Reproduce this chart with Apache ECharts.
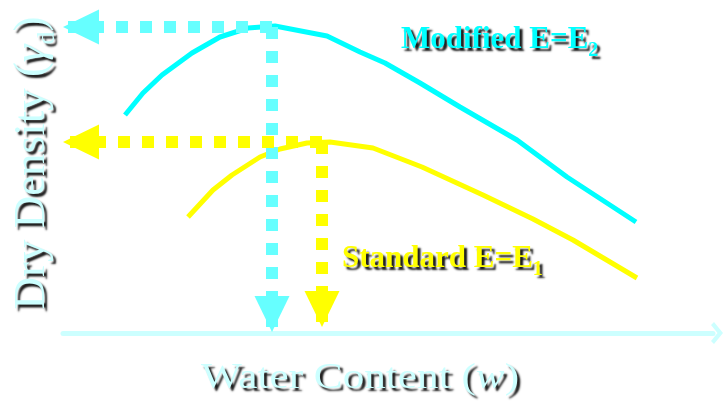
<!DOCTYPE html>
<html>
<head>
<meta charset="utf-8">
<script src="https://cdn.jsdelivr.net/npm/echarts@6/dist/echarts.min.js"></script>
<style>
  html, body { margin: 0; padding: 0; background: #fff; }
  #chart { width: 726px; height: 406px; }
</style>
</head>
<body>
<div id="chart"></div>
<script>
// compaction curves (water content, dry density; arbitrary units)
const modifiedW = [6.2, 8.0, 9.9, 12.9, 15.7, 18.5, 21.2, 26.4, 29.7, 32.2, 35.7, 39.7, 45.4, 50.4, 57.3];
const modifiedD = [21.8, 24.0, 25.8, 28.0, 29.6, 30.5, 30.7, 29.7, 28.1, 27.0, 25.0, 22.6, 19.3, 15.6, 11.1];
const standardW = [12.5, 15.0, 16.9, 19.7, 21.7, 24.4, 26.7, 31.0, 35.9, 42.0, 47.0, 51.0, 57.4];
const standardD = [11.6, 14.3, 15.8, 17.6, 18.4, 19.0, 19.1, 18.5, 16.6, 13.8, 11.4, 9.3, 5.5];
// optimum points: [w, max dry density, where the down arrow stops]
const modifiedOpt = [20.9, 30.6, 0.1];
const standardOpt = [25.9, 19.1, 0.6];
const xMax = 65;
const yMax = 32;

const CYAN = '#00ffff';
const CYAN_ARROW = '#66ffff';
const YELLOW = '#ffff00';
const LABEL = '#ccffff';
const FONT = '"Liberation Serif", "Times New Roman", serif';
const HEAD = 36;

function zip(xs, ys) {
    return xs.map((x, i) => [x, ys[i]]);
}

// dashed guide lines from the optimum point to both axes
function optLines(opt, color) {
    return {
        silent: true,
        symbol: 'none',
        label: { show: false },
        emphasis: { disabled: true },
        lineStyle: { color: color, width: 12, type: [12, 12], cap: 'butt', opacity: 1 },
        data: [
            [{ coord: [opt[0], opt[1]] }, { coord: [0, opt[1]] }],
            [{ coord: [opt[0], opt[1]] }, { coord: [opt[0], opt[2]] }]
        ]
    };
}

// arrow heads at the end of the guide lines
function optHeads(opt, color) {
    return {
        type: 'scatter',
        silent: true,
        z: 6,
        symbol: 'triangle',
        symbolSize: [35, HEAD],
        itemStyle: { color: color, opacity: 1 },
        data: [
            { value: [0, opt[1]], symbolRotate: 90, symbolOffset: [HEAD / 2, 0] },
            { value: [opt[0], opt[2]], symbolRotate: 180, symbolOffset: [0, -HEAD / 2] }
        ]
    };
}

const shadow = {
    textShadowColor: 'rgba(0,0,0,0.9)',
    textShadowBlur: 2,
    textShadowOffsetX: 3,
    textShadowOffsetY: 3
};

const chart = echarts.init(document.getElementById('chart'));
chart.setOption({
    backgroundColor: '#fff',
    animation: false,
    grid: { left: 63, right: 13, top: 13, bottom: 73 },
    xAxis: {
        type: 'value',
        min: 0,
        max: xMax,
        axisLine: {
            show: true,
            onZero: false,
            symbol: ['none', 'path://M11,0 L22,9 L19,12 L11,5.5 L3,12 L0,9 Z'],
            symbolSize: [22, 12],
            symbolOffset: [0, 4],
            lineStyle: { color: LABEL, width: 5 }
        },
        axisTick: { show: false },
        axisLabel: { show: false },
        splitLine: { show: false }
    },
    yAxis: {
        type: 'value',
        min: 0,
        max: yMax,
        show: false
    },
    series: [
        {
            name: 'Modified',
            type: 'line',
            data: zip(modifiedW, modifiedD),
            showSymbol: false,
            lineStyle: { color: CYAN, width: 5 },
            markLine: optLines(modifiedOpt, CYAN_ARROW)
        },
        optHeads(modifiedOpt, CYAN_ARROW),
        {
            name: 'Standard',
            type: 'line',
            data: zip(standardW, standardD),
            showSymbol: false,
            lineStyle: { color: YELLOW, width: 5 },
            markLine: optLines(standardOpt, YELLOW)
        },
        optHeads(standardOpt, YELLOW)
    ],
    graphic: [
        {
            type: 'text',
            x: 401,
            y: 18,
            style: {
                text: '{a|Modified E=E}{s|2}',
                verticalAlign: 'top',
                rich: {
                    a: Object.assign({ fontFamily: FONT, fontWeight: 'bold', fontSize: 31, lineHeight: 44, fill: CYAN }, shadow),
                    s: Object.assign({ fontFamily: FONT, fontWeight: 'bold', fontSize: 20, lineHeight: 20, verticalAlign: 'top', padding: [23, 0, 0, 0], fill: CYAN }, shadow)
                }
            }
        },
        {
            type: 'text',
            x: 342,
            y: 237,
            style: {
                text: '{a|Standard E=E}{s|1}',
                verticalAlign: 'top',
                rich: {
                    a: Object.assign({ fontFamily: FONT, fontWeight: 'bold', fontSize: 31, lineHeight: 44, fill: YELLOW }, shadow),
                    s: Object.assign({ fontFamily: FONT, fontWeight: 'bold', fontSize: 20, lineHeight: 20, verticalAlign: 'top', padding: [23, 0, 0, 0], fill: YELLOW }, shadow)
                }
            }
        },
        {
            type: 'text',
            x: 32,
            y: 163,
            rotation: Math.PI / 2,
            style: {
                text: '{a|Dry Density (}{i|γ}{s|d}{a|)}',
                align: 'center',
                verticalAlign: 'middle',
                rich: {
                    a: Object.assign({ fontFamily: FONT, fontSize: 45, lineHeight: 56, fill: LABEL }, shadow),
                    i: Object.assign({ fontFamily: FONT, fontStyle: 'italic', fontSize: 45, lineHeight: 56, fill: LABEL }, shadow),
                    s: Object.assign({ fontFamily: FONT, fontSize: 26, lineHeight: 26, verticalAlign: 'top', padding: [30, 0, 0, 0], fill: LABEL }, shadow)
                }
            }
        },
        {
            type: 'text',
            x: 360,
            y: 379,
            scaleX: 1.2,
            style: {
                text: '{a|Water Content (}{i|w}{a|)}',
                align: 'center',
                verticalAlign: 'middle',
                rich: {
                    a: Object.assign({ fontFamily: FONT, fontSize: 36, fill: LABEL }, shadow),
                    i: Object.assign({ fontFamily: FONT, fontStyle: 'italic', fontSize: 36, fill: LABEL }, shadow)
                }
            }
        }
    ]
});
</script>
</body>
</html>
